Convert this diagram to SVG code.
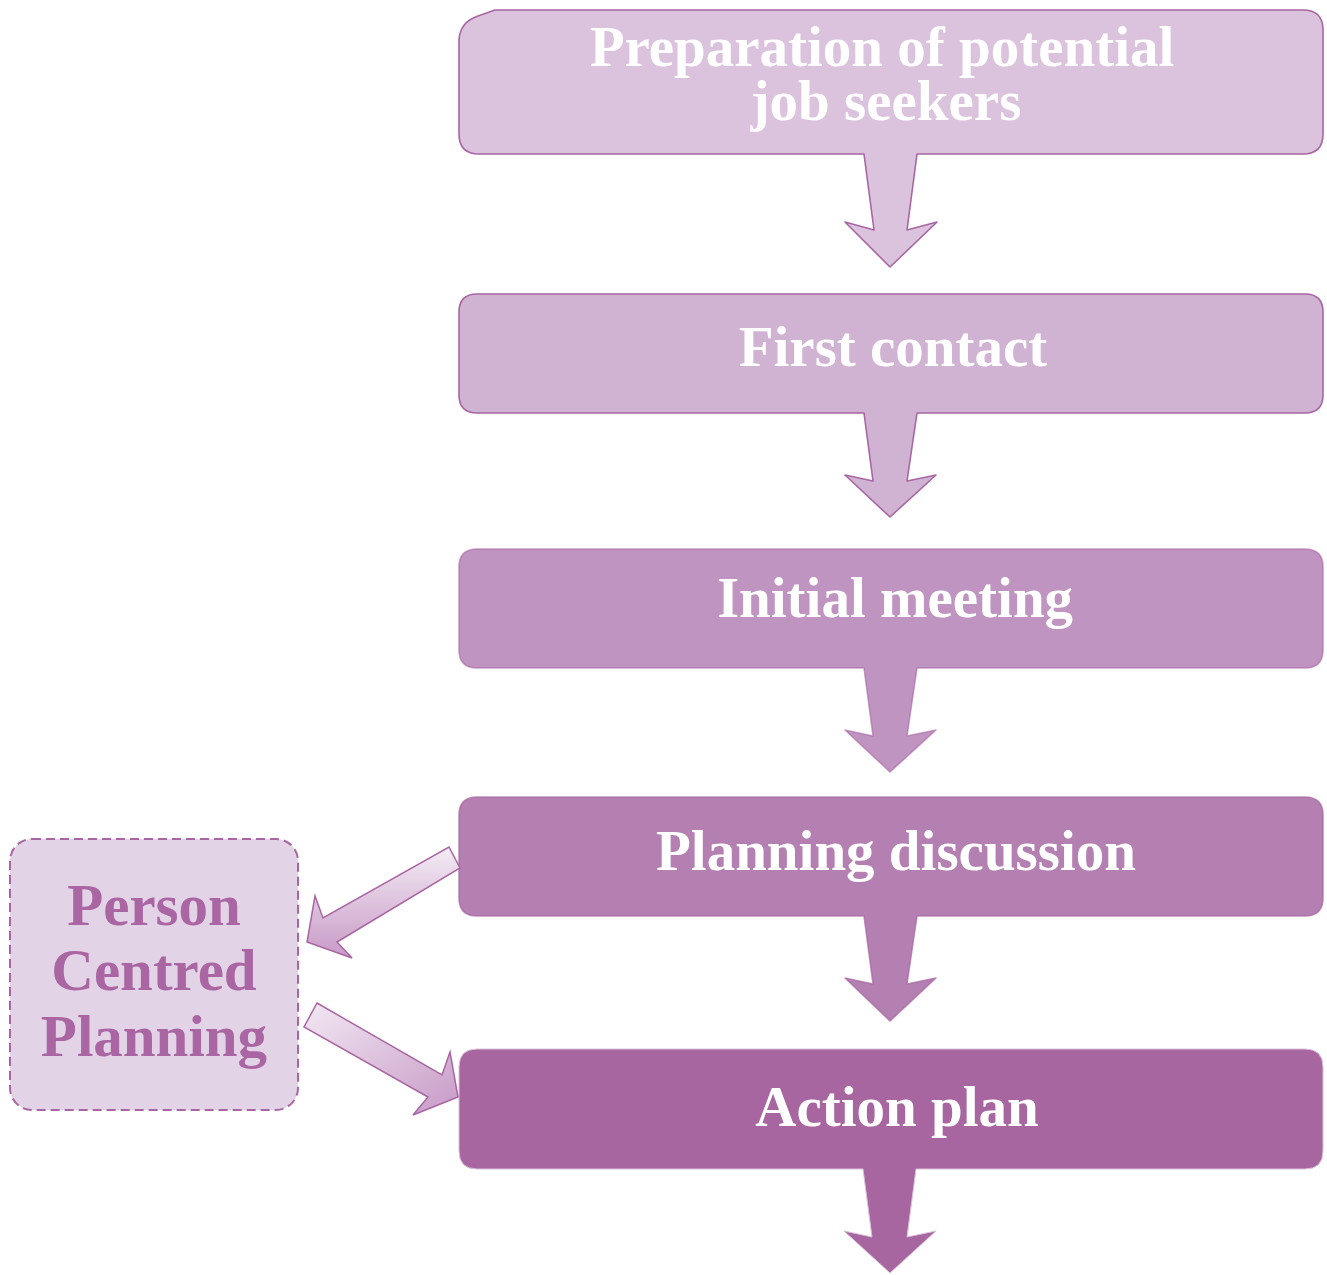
<svg xmlns="http://www.w3.org/2000/svg" width="1327" height="1275" viewBox="0 0 1327 1275">
<style>
.lbl{font-family:"Liberation Serif","Times New Roman",serif;font-weight:bold;font-size:57px;fill:#ffffff;text-anchor:middle}
.side{font-family:"Liberation Serif","Times New Roman",serif;font-weight:bold;font-size:59px;fill:#a966a3;text-anchor:middle}
.box{stroke:#a866a3;stroke-width:1.6;stroke-linejoin:round}
.sarrow{stroke:#a966a3;stroke-width:1.5;stroke-linejoin:miter}
</style>
<defs>
<linearGradient id="sg" x1="0" y1="0" x2="0" y2="1">
<stop offset="0" stop-color="#f4ecf5"/>
<stop offset="1" stop-color="#c79ac6"/>
</linearGradient>
<linearGradient id="sg2" x1="0" y1="0" x2="1" y2="1">
<stop offset="0" stop-color="#f2e8f3"/>
<stop offset="1" stop-color="#c79ac6"/>
</linearGradient>
</defs>
<rect width="1327" height="1275" fill="#ffffff"/>
<g id="pcp">
<rect x="10" y="839" width="288" height="271" rx="22" fill="#e3d3e7" stroke="#a966a3" stroke-width="2" stroke-dasharray="9 5"/>
<text class="side" x="154" y="925">Person</text>
<text class="side" x="154" y="990">Centred</text>
<text class="side" x="154" y="1056">Planning</text>
</g>
<g id="n1">
<path class="box" fill="#dbc3de" d="M495 10 H1303 Q1323 10 1323 30 V134 Q1323 154 1303 154 H917 L907 230 L937 222 L890 267 L845 222 L874 230 L864 154 H479 Q459 154 459 134 V40 Q460 22 478 16 Z"/>
<text class="lbl" x="882" y="66">Preparation of potential</text>
<text class="lbl" x="886" y="120">job seekers</text>
</g>
<g id="n2">
<path class="box" fill="#d0b2d3" d="M477 294 H1305 Q1323 294 1323 312 V395 Q1323 413 1305 413 H917 L907 481 L936 475 L890 517 L845 475 L873 481 L864 413 H477 Q459 413 459 395 V312 Q459 294 477 294 Z"/>
<text class="lbl" x="893" y="366">First contact</text>
</g>
<g id="n3">
<path class="box" fill="#c094c0" stroke-opacity="0.6" d="M477 549 H1305 Q1323 549 1323 567 V650 Q1323 668 1305 668 H917 L907 736 L936 730 L890 772 L845 730 L873 736 L864 668 H477 Q459 668 459 650 V567 Q459 549 477 549 Z"/>
<text class="lbl" x="895" y="617">Initial meeting</text>
</g>
<g id="n4">
<path class="box" fill="#b47fb1" stroke-opacity="0.7" d="M477 797 H1305 Q1323 797 1323 815 V898 Q1323 916 1305 916 H917 L907 984 L936 978 L890 1021 L845 978 L873 984 L864 916 H477 Q459 916 459 898 V815 Q459 797 477 797 Z"/>
<text class="lbl" x="896" y="870">Planning discussion</text>
</g>
<g id="n5">
<path fill="#a766a0" stroke="#d9c0d8" stroke-width="1" d="M477 1049 H1305 Q1323 1049 1323 1067 V1151 Q1323 1169 1305 1169 H916 L907 1237 L936 1231 L890 1273 L844 1231 L872 1237 L863 1169 H477 Q459 1169 459 1151 V1067 Q459 1049 477 1049 Z"/>
<text class="lbl" x="897" y="1126">Action plan</text>
</g>
<g id="connectors">
<path class="sarrow" fill="url(#sg)" d="M449 847 L460 868 L337 942 L352 958 L307 942 L315 896 L323 918 Z"/>
<path class="sarrow" fill="url(#sg2)" d="M317 1003 L442 1075 L450 1052 L458 1097 L413 1115 L428 1097 L304 1027 Z"/>
</g>
</svg>
